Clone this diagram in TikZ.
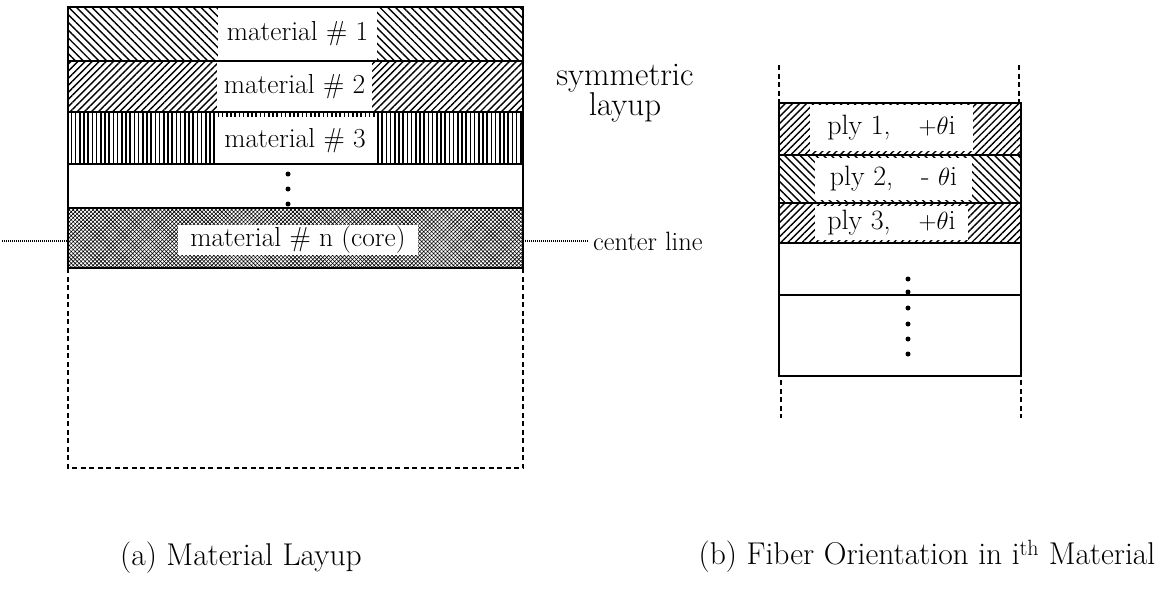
\documentclass[tikz,border=0pt]{standalone}
\usepackage{fontspec}
\usetikzlibrary{patterns.meta}
\begin{document}
\begin{tikzpicture}[x=1pt,y=-1pt,
  hatchNW/.style={pattern={Lines[angle=-45,distance=5.5pt,line width=1.4pt]}},
  hatchNE/.style={pattern={Lines[angle=45,distance=5pt,line width=1.4pt]}},
  hatchV/.style={pattern={Lines[angle=90,distance=4.2pt,line width=1.5pt]}},
  hatchX/.style={pattern={Hatch[angle=45,distance=2.8pt,line width=0.6pt]}},
  lab/.style={fill=white,inner sep=0pt,font=\fontsize{27.5}{30}\selectfont},
  plylab/.style={fill=white,inner sep=0pt,font=\fontsize{28}{30}\selectfont},
  side/.style={font=\fontsize{33}{36}\selectfont},
  captext/.style={font=\fontsize{31.5}{34}\selectfont},
  outl/.style={line width=1.6pt},
  dashbox/.style={line width=1.5pt,dash pattern=on 5pt off 3.5pt},
  dotline/.style={line width=1.6pt,dash pattern=on 1pt off 1pt},
  dot/.style={circle,fill=black,inner sep=0pt,minimum size=5pt}
]
\useasboundingbox (0,0) rectangle (1171,592);

% ---- (a) material layup ----
\path[hatchNW] (68,7) rectangle (523,61);
\path[hatchNE] (68,61) rectangle (523,112);
\path[hatchV] (68,112) rectangle (523,164);
\path[hatchX] (68,208) rectangle (523,268);

\node[lab,minimum width=159pt,minimum height=54pt] (m1) at (297.5,34) {material \# 1};
\node[lab,minimum width=155pt,minimum height=51pt] (m2) at (294.5,86.5) {material \# 2};
\node[lab,minimum width=160pt,minimum height=47pt] (m3) at (295,140.5) {material \# 3};
\node[lab,minimum width=240pt,minimum height=30pt] (mn) at (298,240) {material \# n (core)};

\draw[outl] (68,7) rectangle (523,268);
\draw[outl] (68,61) -- (523,61);
\draw[outl] (68,112) -- (523,112);
\draw[outl] (68,164) -- (523,164);
\draw[outl] (68,208) -- (523,208);
\draw[dashbox] (68,268) -- (68,468) -- (523,468) -- (523,268);

\node[dot] (d1) at (288,174) {};
\node[dot] (d2) at (288,189) {};
\node[dot] (d3) at (288,204) {};

\node[side] (sym) at (625,78) {symmetric};
\node[side] (lay) at (625,107) {layup};

\coordinate (clL) at (2,241);
\coordinate (clA) at (68,241);
\coordinate (clB) at (523,241);
\coordinate (clR) at (588,241);
\draw[dotline] (clL) -- (clA);
\draw[dotline] (clB) -- (clR);
\node[font=\fontsize{26.5}{30}\selectfont,anchor=west,inner sep=0pt] (cl) at (593,241) {center line};

% ---- (b) fiber orientation ----
\path[hatchNE] (779,103) rectangle (1021,155);
\path[hatchNW] (779,155) rectangle (1021,203);
\path[hatchNE] (779,203) rectangle (1021,243);

\node[plylab,minimum width=163pt,minimum height=46pt] (p1) at (891.5,128) {ply 1,\quad $+\theta$i};
\node[plylab,minimum width=157pt,minimum height=42pt] (p2) at (893.5,179) {ply 2,\quad - $\theta$i};
\node[plylab,minimum width=153pt,minimum height=34pt] (p3) at (891.5,223) {ply 3,\quad $+\theta$i};

\draw[outl] (779,103) rectangle (1021,376);
\draw[outl] (779,155) -- (1021,155);
\draw[outl] (779,203) -- (1021,203);
\draw[outl] (779,243) -- (1021,243);
\draw[outl] (779,295) -- (1021,295);

\foreach \y [count=\k] in {279,292,308,324,339,354}
  \node[dot] (e\k) at (908,\y) {};

\coordinate (tl) at (779,65);
\coordinate (tr) at (1019,65);
\coordinate (bl) at (781,418);
\coordinate (br) at (1021,418);
\draw[dashbox,line width=1.2pt] (tl) -- (779,103);
\draw[dashbox,line width=1.2pt] (tr) -- (1019,103);
\draw[dashbox,line width=1.2pt] (781,380) -- (bl);
\draw[dashbox,line width=1.2pt] (1021,380) -- (br);

% ---- captions ----
\node[captext] (ca) at (241,558) {(a) Material Layup};
\node[captext] (cb) at (927,556) {(b) Fiber Orientation in i\textsuperscript{th} Material};
\end{tikzpicture}
\end{document}
